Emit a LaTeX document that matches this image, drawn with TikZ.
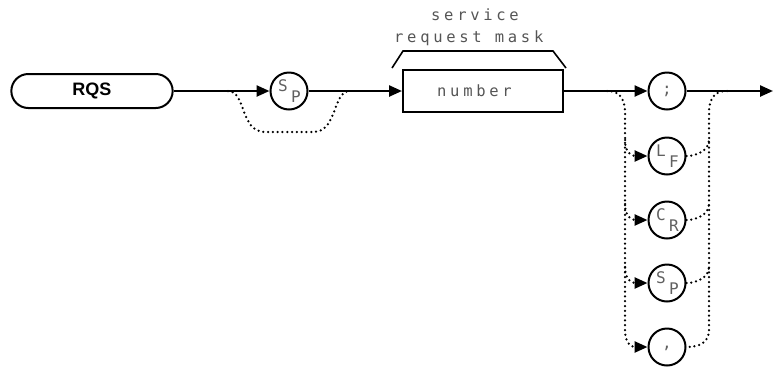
\documentclass[tikz,border=0pt]{standalone}
\usepackage{fontspec}
\setmainfont{Liberation Sans}
\newfontfamily\spaced[LetterSpace=24]{DejaVu Sans Mono}
\newfontfamily\monofont{DejaVu Sans Mono}
\usetikzlibrary{arrows.meta,shapes.misc}
\definecolor{lettergray}{HTML}{606060}
\definecolor{textgray}{HTML}{555555}
\begin{document}
\begin{tikzpicture}[x=1pt,y=-1pt,
  line/.style={line width=2.4pt},
  arr/.style={line,-{Triangle[length=13pt,width=11pt]}},
  dotline/.style={line width=2.5pt,dash pattern=on 0pt off 4.8pt,line cap=round},
  dotarr/.style={dotline,-{Triangle[length=13pt,width=11pt]}},
  circ/.style={circle,draw,line width=2pt,minimum size=37pt,inner sep=0pt},
  lt/.style={text=lettergray,font=\monofont\fontsize{16}{16}\selectfont,inner sep=0pt},
  rqsbox/.style={rounded rectangle,draw,line width=2pt,minimum width=168pt,minimum height=34pt,font=\fontsize{18}{18}\selectfont\bfseries},
  numbox/.style={rectangle,draw,line width=2pt,minimum width=160pt,minimum height=42pt},
  lbl/.style={text=textgray,font=\spaced\fontsize{15.5}{15.5}\selectfont,inner sep=0pt,anchor=base west}]
\useasboundingbox (0,0) rectangle (773,368);
% nodes
\node[rqsbox] (rqs) at (92,91) {RQS};
\node[circ] (sp1) at (289,91) {};
\node[lt] (sp1s) at ([shift={(-6,-5)}]sp1.center) {S};
\node[lt] (sp1p) at ([shift={(7,6)}]sp1.center) {P};
\node[numbox] (num) at (483,91) {};
\node[lbl] (numt) at (437,96) {number};
\node[lbl] (svc) at (431,20) {service};
\node[lbl] (req) at (394,42) {request mask};
\node[circ] (semi) at (667,91) {};
\node[lt] (semit) at (semi.center) {;};
\node[circ] (lf) at (667,156) {};
\node[lt] (lfl) at ([shift={(-6,-5)}]lf.center) {L};
\node[lt] (lff) at ([shift={(7,6)}]lf.center) {F};
\node[circ] (cr) at (667,220) {};
\node[lt] (crc) at ([shift={(-6,-5)}]cr.center) {C};
\node[lt] (crr) at ([shift={(7,6)}]cr.center) {R};
\node[circ] (sp2) at (667,283) {};
\node[lt] (sp2s) at ([shift={(-6,-5)}]sp2.center) {S};
\node[lt] (sp2p) at ([shift={(7,6)}]sp2.center) {P};
\node[circ] (comma) at (667,347) {};
\node[lt] (commat) at ([shift={(0,1)}]comma.center) {,};
% bracket
\coordinate (bl) at (392,68);
\coordinate (br) at (566,68);
\draw[line width=1.6pt] (bl) -- (403,51) -- (553,51) -- (br);
% main line
\coordinate (endp) at (773,91);
\draw[arr] (rqs.east) -- (sp1.west);
\draw[arr] (sp1.east) -- (num.west);
\draw[arr] (num.east) -- (semi.west);
\draw[arr] (semi.east) -- (endp);
% bypass of SP
\coordinate (b1) at (228,91);
\coordinate (b2) at (350,91);
\draw[dotline] (b1) .. controls (246,91) and (240,132) .. (265,132) -- (313,132) .. controls (338,132) and (332,91) .. (b2);
% branch rails
\coordinate (l0) at (607,91);
\coordinate (r0) at (727,91);
\draw[dotarr] (l0) .. controls (621,91) and (625,100) .. (625,114) -- (625,330) .. controls (625,342) and (630,347) .. (comma.west);
\draw[dotline] (r0) .. controls (713,91) and (709,100) .. (709,114) -- (709,330) .. controls (709,342) and (700,347) .. (comma.east);
% middle branches
\foreach \n in {lf,cr,sp2}{
  \draw[dotarr] ([xshift=-42pt,yshift=16pt]\n.center) .. controls ([xshift=-42pt,yshift=4pt]\n.center) and ([xshift=-36pt]\n.center) .. (\n.west);
  \draw[dotline] (\n.east) .. controls ([xshift=30pt]\n.center) and ([xshift=42pt,yshift=6pt]\n.center) .. ([xshift=42pt,yshift=16pt]\n.center);
}
\end{tikzpicture}
\end{document}
